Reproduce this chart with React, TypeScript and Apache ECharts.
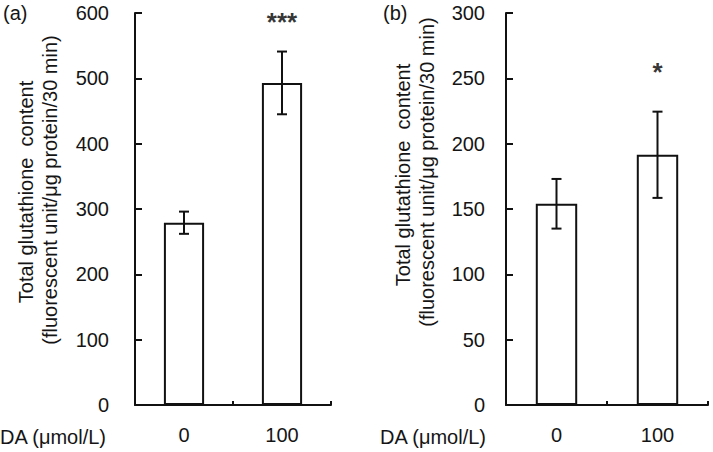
import React, { useEffect, useRef } from "react";
import * as echarts from "echarts";

const categories = ["0", "100"];
const meansA = [279, 493];
const errA = [17, 48];
const sigA = ["", "***"];
const sigPosA = [null, 586];
const meansB = [154, 191.5];
const errB = [19, 33];
const sigB = ["", "*"];
const sigPosB = [null, 255];
const yTitle1 = "Total glutathione  content";
const yTitle2 = "(fluorescent unit/μg protein/30 min)";
const xTitle = "DA (μmol/L)";

const FONT = "'Liberation Sans', Arial, sans-serif";
const INK = "#111";
const TXT = "#151515";

function errSeries(xIdx: number, means: number[], errs: number[]) {
  return {
    type: "custom",
    xAxisIndex: xIdx,
    yAxisIndex: xIdx,
    z: 5,
    data: means.map((m, i) => [i, m - errs[i], m + errs[i]]),
    renderItem: (params: any, api: any) => {
      const lo = api.coord([api.value(0), api.value(1)]);
      const hi = api.coord([api.value(0), api.value(2)]);
      const cap = 5;
      const st = { stroke: INK, lineWidth: 2 };
      return {
        type: "group",
        children: [
          { type: "line", shape: { x1: lo[0], y1: lo[1], x2: hi[0], y2: hi[1] }, style: st },
          { type: "line", shape: { x1: hi[0] - cap, y1: hi[1], x2: hi[0] + cap, y2: hi[1] }, style: st },
          { type: "line", shape: { x1: lo[0] - cap, y1: lo[1], x2: lo[0] + cap, y2: lo[1] }, style: st },
        ],
      };
    },
  };
}

function sigSeries(xIdx: number, pos: (number | null)[], sig: string[]) {
  return {
    type: "scatter",
    xAxisIndex: xIdx,
    yAxisIndex: xIdx,
    symbolSize: 0,
    data: pos.map((p, i) => (p == null ? null : [i, p])),
    label: {
      show: true,
      position: "inside",
      formatter: (p: any) => sig[p.dataIndex],
      fontSize: 26,
      fontWeight: "bold",
      color: "#000",
      fontFamily: FONT,
    },
  };
}

function xAxisCfg(gi: number) {
  return {
    type: "category",
    gridIndex: gi,
    data: categories,
    axisLine: { lineStyle: { color: INK, width: 2 } },
    axisTick: { show: true, inside: true, length: 4, alignWithLabel: false, lineStyle: { color: INK, width: 2 } },
    axisLabel: { fontSize: 20, color: TXT, fontFamily: FONT, margin: 20 },
    splitLine: { show: false },
  };
}

function yAxisCfg(gi: number, max: number, interval: number, margin: number) {
  return {
    type: "value",
    gridIndex: gi,
    min: 0,
    max,
    interval,
    axisLine: { show: true, lineStyle: { color: INK, width: 2 } },
    axisTick: { show: true, inside: true, length: 7, lineStyle: { color: INK, width: 2 } },
    axisLabel: { fontSize: 20, color: TXT, fontFamily: FONT, margin },
    splitLine: { show: false },
  };
}

function txt(x: number, y: number, text: string, rot = 0, align = "center") {
  return {
    type: "text",
    x,
    y,
    rotation: rot,
    style: {
      text,
      fontSize: 20,
      fontFamily: FONT,
      fill: TXT,
      align,
      verticalAlign: "middle",
    },
  };
}

export default function App() {
  const ref = useRef<HTMLDivElement>(null);
  useEffect(() => {
    if (!ref.current) return;
    const chart = echarts.init(ref.current, undefined, { renderer: "svg" });
    const barStyle = { color: "#fff", borderColor: INK, borderWidth: 2 };
    chart.setOption({
      animation: false,
      backgroundColor: "#fff",
      grid: [
        { left: 135, top: 13, width: 196, height: 392 },
        { left: 506, top: 13, width: 202, height: 392 },
      ],
      xAxis: [xAxisCfg(0), xAxisCfg(1)],
      yAxis: [yAxisCfg(0, 600, 100, 26), yAxisCfg(1, 300, 50, 21)],
      series: [
        { type: "bar", xAxisIndex: 0, yAxisIndex: 0, data: meansA, barWidth: "41%", itemStyle: barStyle },
        { type: "bar", xAxisIndex: 1, yAxisIndex: 1, data: meansB, barWidth: "41%", itemStyle: barStyle },
        errSeries(0, meansA, errA),
        errSeries(1, meansB, errB),
        sigSeries(0, sigPosA, sigA),
        sigSeries(1, sigPosB, sigB),
      ],
      graphic: [
        txt(3, 13, "(a)", 0, "left"),
        txt(383, 13, "(b)", 0, "left"),
        txt(26, 192, yTitle1, Math.PI / 2),
        txt(50, 190, yTitle2, Math.PI / 2),
        txt(403, 175, yTitle1, Math.PI / 2),
        txt(427, 172, yTitle2, Math.PI / 2),
        txt(0, 437, xTitle, 0, "left"),
        txt(380, 437, xTitle, 0, "left"),
      ],
    });
    return () => chart.dispose();
  }, []);
  return <div ref={ref} style={{ width: 713, height: 452, position: "absolute", left: 0, top: 0 }} />;
}
